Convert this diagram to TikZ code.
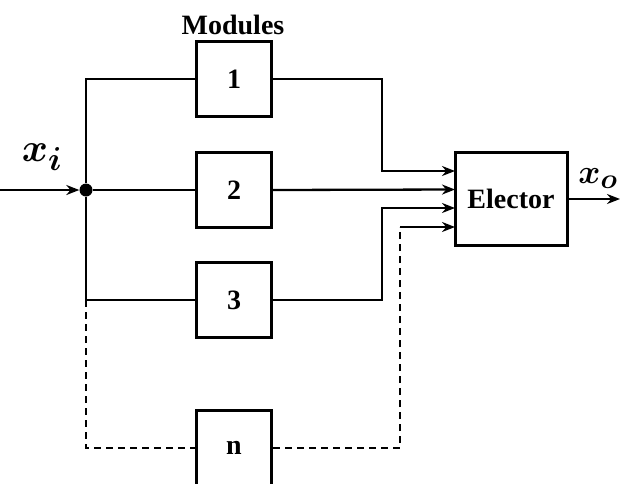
\documentclass[tikz,border=0pt]{standalone}
\usepackage{amsmath}
\usepackage{graphicx}
\usepackage{fontspec}
\setmainfont{Liberation Serif}
\usetikzlibrary{arrows.meta}
\tikzset{
  mod/.style={draw,line width=3pt,minimum width=75pt,minimum height=75pt,inner sep=0pt,font=\fontsize{28}{30}\selectfont\bfseries},
  wire/.style={line width=2.3pt},
  arr/.style={wire,-{Stealth[length=13pt,width=10pt]}},
  dsh/.style={wire,dash pattern=on 7pt off 5pt},
  lbl/.style={font=\fontsize{28}{30}\selectfont\bfseries,inner sep=0pt},
  mlbl/.style={font=\fontsize{24.88}{26}\selectfont,inner sep=0pt}
}
\newcommand{\biglbl}[2]{\scalebox{#1}{$\boldsymbol{#2}$}}
\begin{document}
\begin{tikzpicture}[x=1pt,y=-1pt]
\useasboundingbox (0,0) rectangle (620,483);
\clip (0,0) rectangle (620,483);
\node[mod] (m1) at (234,79) {1};
\node[mod] (m2) at (234,190) {2};
\node[mod] (m3) at (234,300) {3};
\node[mod] (mn) at (234,448) {n};
\node[mod,minimum width=112pt,minimum height=93pt] (el) at (511,199) {Elector};
\node[lbl] (mods) at (233,25) {Modules};
\node[circle,fill,inner sep=0pt,minimum size=13pt] (j) at (86,190) {};
\coordinate (in) at (0,190);
\coordinate (out) at (620,199);
\coordinate (t3) at (86,300);
\coordinate (e1) at (455,171);
\coordinate (e2) at (455,189.5);
\coordinate (e3) at (455,208);
\coordinate (e4) at (455,227);
\coordinate (k1) at (381.7,171);
\coordinate (k3) at (381.7,208);
\coordinate (kn) at (400,227);
\node[mlbl] (xi) at (42,157) {\biglbl{1.6}{x_i}};
\node[mlbl] (xo) at (598,179) {\biglbl{1.35}{x_o}};
\draw[arr] (in) -- (j);
\draw[wire] (m1.west) -| (j);
\draw[wire] (j) |- (m3.west);
\draw[wire] (j) -- (m2.west);
\draw[dsh] (t3) |- (mn.west);
\draw[arr] (m1.east) -| (k1) -- (e1);
\draw[arr] (m2.east) -- (e2);
\draw[arr] (m3.east) -| (k3) -- (e3);
\draw[dsh] (mn.east) -| (kn);
\draw[arr] (kn) -- (e4);
\draw[arr] (el.east) -- (out);
\end{tikzpicture}
\end{document}
